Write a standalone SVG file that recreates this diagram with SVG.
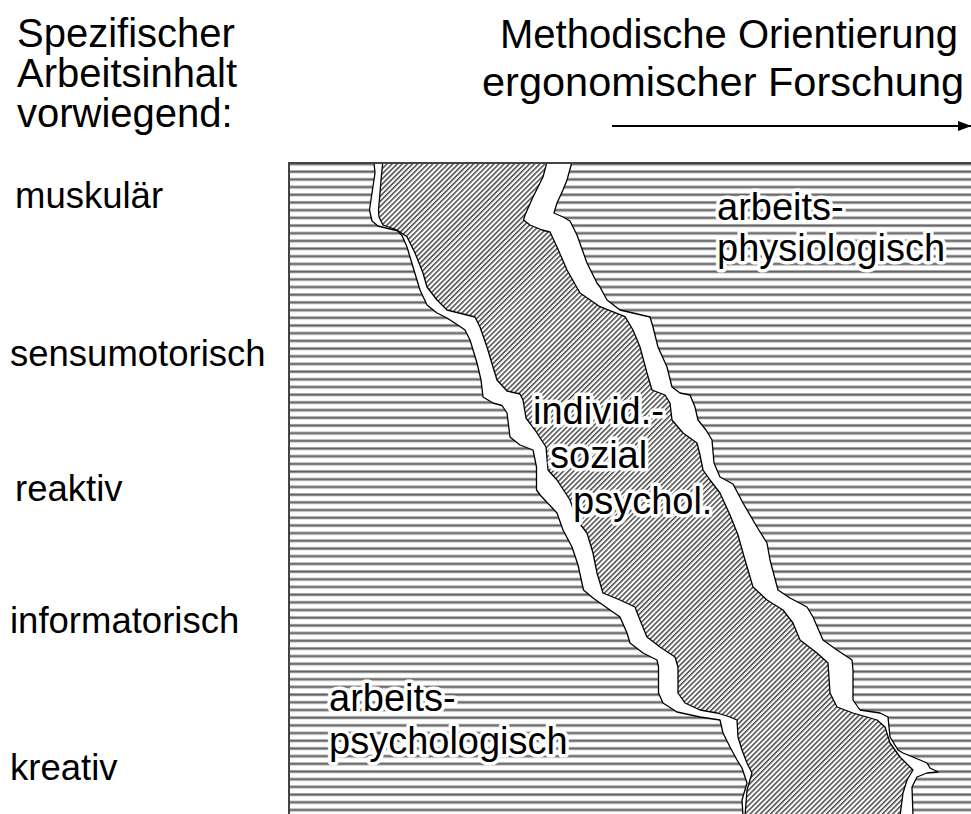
<svg xmlns="http://www.w3.org/2000/svg" width="971" height="814" viewBox="0 0 971 814">
  <defs>
    <!-- horizontal ruling for the two outer research fields -->
    <pattern id="hlines" patternUnits="userSpaceOnUse" x="0" y="0" width="20" height="7.69">
      <rect x="0" y="0" width="20" height="7.69" fill="#ffffff"/>
      <rect x="0" y="0.9" width="20" height="3.3" fill="#b8b8b8"/>
      <rect x="0" y="1.7" width="20" height="1.7" fill="#606060"/>
    </pattern>
    <!-- diagonal hatching for the middle field -->
    <pattern id="dlines" patternUnits="userSpaceOnUse" width="3.6" height="20" patternTransform="rotate(45)">
      <rect x="0" y="0" width="3.6" height="20" fill="#ffffff"/>
      <rect x="0" y="0" width="1.5" height="20" fill="#484848"/>
    </pattern>
    <marker id="arrowhead" viewBox="0 0 14 10" refX="13" refY="5" markerWidth="14" markerHeight="10" markerUnits="userSpaceOnUse" orient="auto">
      <path d="M0,0 L14,5 L0,10 Z" fill="#000"/>
    </marker>
  </defs>
  <style>
    .lbl { font-family: "Liberation Sans", Arial, sans-serif; font-size: 36.5px; fill: #000; }
    .fld { font-family: "Liberation Sans", Arial, sans-serif; font-size: 38px; fill: #000; }
    .ttl { font-family: "Liberation Sans", Arial, sans-serif; font-size: 40px; fill: #000; }
    .halo { paint-order: stroke; stroke: #fff; stroke-width: 7px; stroke-linejoin: round; }
    .edge { stroke: #000; stroke-width: 1.3; stroke-linejoin: round; }
  </style>

  <rect width="971" height="814" fill="#ffffff"/>

  <!-- headings -->
  <g id="heading-left">
    <text class="ttl" x="17" y="47">Spezifischer</text>
    <text class="ttl" x="17" y="87">Arbeitsinhalt</text>
    <text class="ttl" x="17" y="127">vorwiegend:</text>
  </g>
  <g id="heading-right">
    <text class="ttl" x="500" y="48">Methodische Orientierung</text>
    <text class="ttl" x="482" y="96" style="font-size:41.5px">ergonomischer Forschung</text>
  </g>
  <g id="connectors">
    <line x1="612" y1="126" x2="971" y2="126" stroke="#000" stroke-width="2.2" marker-end="url(#arrowhead)"/>
  </g>

  <!-- row labels -->
  <g id="rows">
    <text class="lbl" x="15" y="208">muskulär</text>
    <text class="lbl" x="10" y="366">sensumotorisch</text>
    <text class="lbl" x="15" y="501">reaktiv</text>
    <text class="lbl" x="10" y="633">informatorisch</text>
    <text class="lbl" x="10" y="780">kreativ</text>
  </g>

  <!-- chart area: horizontally ruled background -->
  <g id="field-outer">
    <rect x="289" y="163" width="682" height="651" fill="url(#hlines)"/>
  </g>

  <!-- white gaps between the fields, bounded by the outer edges -->
  <g id="field-gaps">
    <path class="edge" fill="#ffffff" d="M374,163 L375,173 L372,193 L369.5,210 L372,221 L378,226 L388,228.5 L397,230.5 L402,235.5 L407,247 L413,267 L420,290 L427,305 L437,313 L447,318 L460,326.5 L465,330 L470,340 L477,363 L481,380 L483,397 L493,403 L502,405.5 L507,413 L510,437 L520,445 L533,450 L536.5,467 L536.5,490 L541,496 L557,513 L563,530 L572,547 L578,565 L583.5,590 L593,598 L610,610 L620,617 L627,633 L630,643 L643,653 L657,660 L658.5,667 L658.5,693 L663,703 L677,712 L700,717 L720,720 L723,733 L730,747 L737,760 L742,768 L747,783 L742,800 L743,816 L913,816 L912,787 L917,777 L927,773 L938,772 L930,768 L927,763 L920,760 L903,753 L898,750 L890,737 L888,717 L880,713 L860,710 L853,700 L853,670 L852,660 L837,650 L823,640 L813,617 L807,607 L790,598 L778,590 L770,560 L767,543 L757,527 L743,503 L733,484 L720,477 L714,463 L712,440 L706,430 L698,420 L695,407 L690,395 L680,393 L672,387 L667,367 L658,347 L653,327 L650,317 L633,313 L620,310 L607,300 L600,287 L597,283 L587,263 L577,235 L570,221 L563,217 L554,213 L557,203 L563,190 L567,180 L571.7,163 Z"/>
  </g>

  <!-- middle, diagonally hatched field -->
  <g id="field-middle">
    <path class="edge" fill="url(#dlines)" d="M382.7,163 L381,180 L380,193 L378.5,210 L379,217 L383,225 L397,230 L407,236.7 L415,253 L423,273 L427,287 L437,300 L447,310 L467,315 L475,317 L480,327 L487,347 L493,367 L497,380 L507,391 L520,394 L523,400 L526,418 L535,430 L546,447 L548,470 L557,480 L570,500 L577,520 L587,533 L593,553 L597,573 L603,593 L620,600 L635,607 L640,620 L647,637 L660,647 L675,657 L678,667 L678,693 L685,703 L700,710 L717,713 L730,717 L737,720 L738,737 L742,750 L747,763 L752,773 L747,790 L745,816 L900,816 L903,793 L907,780 L913,770 L900,757 L890,743 L885,727 L877,720 L853,713 L837,707 L830,693 L828,663 L817,653 L800,640 L793,623 L783,610 L767,600 L753,587 L745,560 L738,535 L730,515 L720,493 L710,480 L703,470 L700,455 L697,443 L683,433 L672,420 L670,403 L665,395 L652,390 L647,373 L640,347 L633,330 L625,316.7 L600,306.7 L580,293 L567,270 L557,247 L550,232 L542,230 L530,225 L523.5,220 L525,215 L533,197 L543,177 L546.7,163 Z"/>
  </g>

  <!-- frame edges -->
  <g id="frame">
    <line x1="289" y1="163" x2="971" y2="163" stroke="#444" stroke-width="2"/>
    <line x1="289" y1="162" x2="289" y2="814" stroke="#444" stroke-width="2"/>
  </g>

  <!-- field names -->
  <g id="label-physiologisch">
    <text class="fld halo" x="717" y="220">arbeits-</text>
    <text class="fld halo" x="717" y="261">physiologisch</text>
  </g>
  <g id="label-sozial">
    <text class="fld halo" x="533" y="424">individ.-</text>
    <text class="fld halo" x="550" y="468">sozial</text>
    <text class="fld halo" x="573" y="514">psychol.</text>
  </g>
  <g id="label-psychologisch">
    <text class="fld halo" x="329" y="711">arbeits-</text>
    <text class="fld halo" x="329" y="754">psychologisch</text>
  </g>
</svg>
